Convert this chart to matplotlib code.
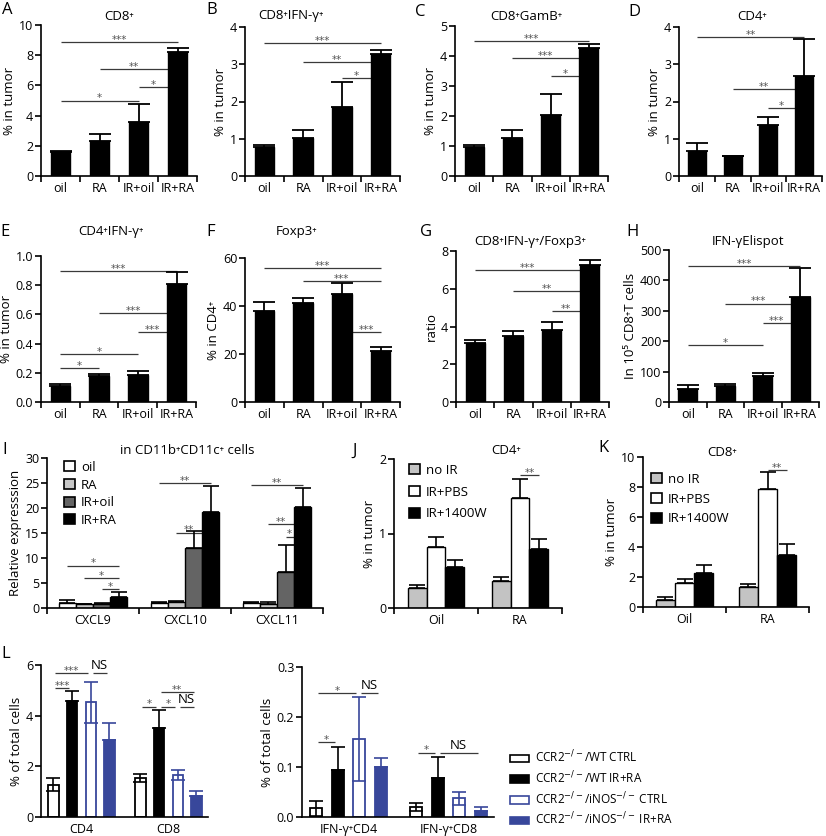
import matplotlib.pyplot as plt
import numpy as np
from matplotlib.patches import Patch

plt.rcParams["font.family"] = ["Open Sans", "DejaVu Sans"]
plt.rcParams["mathtext.fontset"] = "dejavusans"

FIG_W, FIG_H = 826, 836
BLUE = "#38479b"
LINE_GRAY = "#3a3a3a"
TICK_FS = 9
LABEL_FS = 9.5

# ---------------------------------------------------------------------------
# Data
# ---------------------------------------------------------------------------
treatments = ["oil", "RA", "IR+oil", "IR+RA"]

cd8_mean = [1.6, 2.3, 3.55, 8.2]
cd8_err = [0.08, 0.5, 1.25, 0.25]
cd8_sig = [(0, 3, 8.85, "***"), (1, 3, 7.1, "**"), (2, 3, 5.9, "*"), (0, 2, 5.0, "*")]

cd8ifn_mean = [0.78, 1.02, 1.85, 3.28]
cd8ifn_err = [0.05, 0.22, 0.68, 0.09]
cd8ifn_sig = [(0, 3, 3.57, "***"), (1, 3, 3.06, "**"), (2, 3, 2.64, "*")]

gamb_mean = [0.98, 1.28, 2.02, 4.28]
gamb_err = [0.06, 0.27, 0.73, 0.12]
gamb_sig = [(0, 3, 4.5, "***"), (1, 3, 3.93, "***"), (2, 3, 3.33, "*")]

cd4_mean = [0.67, 0.53, 1.38, 2.68]
cd4_err = [0.22, 0.02, 0.2, 1.0]
cd4_sig = [(0, 3, 3.73, "**"), (1, 3, 2.33, "**"), (2, 3, 1.82, "*")]

cd4ifn_mean = [0.11, 0.18, 0.185, 0.81]
cd4ifn_err = [0.015, 0.01, 0.03, 0.08]
cd4ifn_sig = [(0, 3, 0.9, "***"), (1, 3, 0.61, "***"), (2, 3, 0.478, "***"),
              (0, 2, 0.327, "*"), (0, 1, 0.233, "*")]

foxp3_mean = [38.1, 41.1, 45.0, 21.1]
foxp3_err = [3.5, 2.4, 4.7, 2.0]
foxp3_sig = [(0, 3, 56.0, "***"), (1, 3, 50.5, "***"), (2, 3, 29.0, "***")]

ratio_mean = [3.12, 3.51, 3.82, 7.28]
ratio_err = [0.18, 0.23, 0.44, 0.26]
ratio_sig = [(0, 3, 6.98, "***"), (1, 3, 5.89, "**"), (2, 3, 4.84, "**")]

elispot_mean = [44, 53, 86, 346]
elispot_err = [11, 5, 11, 94]
elispot_sig = [(0, 3, 448, "***"), (1, 3, 324, "***"), (2, 3, 260, "***"), (0, 2, 186, "*")]

chemokines = ["CXCL9", "CXCL10", "CXCL11"]
chem_colors = ["white", "#c8c8c8", "#646464", "black"]
chem_mean = [[1.1, 0.8, 0.75, 2.2], [1.0, 1.3, 12.0, 19.2], [1.0, 0.9, 7.2, 20.2]]
chem_err = [[0.5, 0.05, 0.35, 1.0], [0.2, 0.2, 3.5, 5.2], [0.3, 0.25, 5.4, 3.8]]
chem_sig = [(0, 0, 3, 8.5, "*"), (0, 1, 3, 6.0, "*"), (0, 2, 3, 3.8, "*"),
            (1, 0, 3, 25.0, "**"), (1, 1, 3, 15.1, "**"),
            (2, 0, 3, 24.6, "**"), (2, 1, 3, 16.8, "**"), (2, 2, 3, 14.3, "*")]

vehicles = ["Oil", "RA"]
inos_groups = ["no IR", "IR+PBS", "IR+1400W"]
inos_colors = ["#c3c3c3", "white", "black"]
j_mean = [[0.27, 0.82, 0.55], [0.36, 1.48, 0.79]]
j_err = [[0.04, 0.13, 0.09], [0.06, 0.25, 0.13]]
j_sig = [(1, 1, 2, 1.79, "**")]
k_mean = [[0.5, 1.62, 2.27], [1.33, 7.87, 3.5]]
k_err = [[0.18, 0.22, 0.5], [0.2, 1.1, 0.67]]
k_sig = [(1, 1, 2, 9.16, "**")]

mice = [r"CCR2$^{-/-}$/WT CTRL", r"CCR2$^{-/-}$/WT IR+RA",
        r"CCR2$^{-/-}$/iNOS$^{-/-}$ CTRL", r"CCR2$^{-/-}$/iNOS$^{-/-}$ IR+RA"]
mice_face = ["white", "black", "white", BLUE]
mice_edge = ["black", "black", BLUE, BLUE]
mice_open = [True, False, True, False]
l1_cells = ["CD4", "CD8"]
l1_mean = [[1.28, 4.57, 4.52, 3.05], [1.55, 3.53, 1.67, 0.83]]
l1_err = [[0.25, 0.4, 0.82, 0.65], [0.15, 0.7, 0.2, 0.2]]
l1_sig = [(0, 0, 2, 5.7, "***"), (0, 2, 3, 5.7, "NS"), (0, 0, 1, 5.1, "***"),
          (1, 1, 3, 4.94, "**"), (1, 0, 1, 4.36, "*"), (1, 1, 2, 4.36, "*"),
          (1, 2, 3, 4.36, "NS")]
l2_cells = ["IFN-γ⁺CD4", "IFN-γ⁺CD8"]
l2_mean = [[0.018, 0.094, 0.157, 0.101], [0.021, 0.078, 0.038, 0.012]]
l2_err = [[0.015, 0.046, 0.084, 0.017], [0.008, 0.043, 0.013, 0.009]]
l2_sig = [(0, 0, 1, 0.15, "*"), (0, 0, 2, 0.248, "*"), (0, 2, 3, 0.248, "NS"),
          (1, 0, 1, 0.129, "*"), (1, 1, 3, 0.129, "NS")]

# ---------------------------------------------------------------------------
# Helpers
# ---------------------------------------------------------------------------
fig = plt.figure(figsize=(FIG_W / 100, FIG_H / 100), dpi=100)


def px_axes(x0, y_top, x1, y_bot):
    return fig.add_axes([x0 / FIG_W, 1 - y_bot / FIG_H,
                         (x1 - x0) / FIG_W, (y_bot - y_top) / FIG_H])


def fig_text(x, y, s, **kw):
    fig.text(x / FIG_W, 1 - y / FIG_H, s, ha="center", va="center", **kw)


def style_axes(ax, ylim, yticks, yfmt="{:g}"):
    for s in ("top", "right"):
        ax.spines[s].set_visible(False)
    for s in ("left", "bottom"):
        ax.spines[s].set_linewidth(1.2)
    ax.set_ylim(*ylim)
    ax.set_yticks(yticks)
    ax.set_yticklabels([yfmt.format(v) for v in yticks])
    ax.tick_params(axis="y", length=4, width=1.2, labelsize=TICK_FS, pad=1.5)
    ax.tick_params(axis="x", which="major", length=4, width=1.2)
    ax.tick_params(axis="x", which="minor", length=0, labelsize=TICK_FS, pad=4)


def category_axis(ax, labels):
    n = len(labels)
    ax.set_xlim(0, n)
    ax.set_xticks(np.arange(n + 1))
    ax.set_xticklabels([])
    ax.set_xticks(np.arange(n) + 0.5, minor=True)
    ax.set_xticklabels(labels, minor=True)


def sig_line(ax, x1, x2, y, label, lo=None, hi=None):
    ax.plot([x1, x2], [y, y], color=LINE_GRAY, lw=0.9, zorder=1,
            solid_capstyle="butt", clip_on=False)
    a = x1 if lo is None else lo
    b = x2 if hi is None else hi
    if label == "NS":
        ax.annotate(label, ((a + b) / 2, y), xytext=(0, 0.5),
                    textcoords="offset points", ha="center", va="bottom",
                    fontsize=9.5)
    else:
        ax.annotate(label, ((a + b) / 2, y), xytext=(0, 1.5),
                    textcoords="offset points", ha="center", va="center",
                    fontsize=7.5, color="#555555", family="DejaVu Sans")


def treatment_panel(box, means, errs, sigs, ylim, yticks, ylabel, yfmt="{:g}"):
    ax = px_axes(*box)
    x = np.arange(len(means)) + 0.5
    ax.bar(x, means, width=0.5, color="black", edgecolor="black", lw=1, zorder=2)
    ax.errorbar(x, means, yerr=[np.zeros(len(errs)), errs], fmt="none",
                ecolor="black", elinewidth=1.3, capsize=8, capthick=1.3, zorder=2)
    for i, j, y, lab in sigs:
        lo = x[i] + 0.25 if means[i] > y else x[i]
        hi = x[j] - 0.25 if means[j] > y else x[j]
        sig_line(ax, x[i], x[j], y, lab, lo, hi)
    category_axis(ax, treatments)
    style_axes(ax, ylim, yticks, yfmt)
    ax.set_ylabel(ylabel, fontsize=LABEL_FS, labelpad=2)
    return ax


def grouped_panel(box, groups, means, errs, colors, width, ylim, yticks,
                  ylabel, sigs, capsize):
    ax = px_axes(*box)
    k = len(colors)
    offs = (np.arange(k) - (k - 1) / 2) * width
    for g, (m, e) in enumerate(zip(means, errs)):
        x = g + 0.5 + offs
        ax.bar(x, m, width=width, color=colors, edgecolor="black", lw=1,
               zorder=2)
        ax.errorbar(x, m, yerr=[np.zeros(k), e], fmt="none", ecolor="black",
                    elinewidth=1.2, capsize=capsize, capthick=1.2, zorder=2)
    for g, i, j, y, lab in sigs:
        xi, xj = g + 0.5 + offs[i], g + 0.5 + offs[j]
        lo = xi + width / 2 if means[g][i] > y else xi
        hi = xj - width / 2 if means[g][j] > y else xj
        sig_line(ax, xi, xj, y, lab, lo, hi)
    category_axis(ax, groups)
    style_axes(ax, ylim, yticks)
    ax.set_ylabel(ylabel, fontsize=LABEL_FS, labelpad=2)
    return ax


def mice_panel(box, cells, means, errs, ylim, yticks, ylabel, sigs, yfmt="{:g}"):
    ax = px_axes(*box)
    step, width = 0.215, 0.12
    offs = (np.arange(4) - 1.5) * step
    for g, (m, e) in enumerate(zip(means, errs)):
        for b in range(4):
            x = g + offs[b]
            ax.bar(x, m[b], width=width, color=mice_face[b],
                   edgecolor=mice_edge[b], lw=1.3, zorder=2)
            lower = e[b] if mice_open[b] else 0
            ax.errorbar([x], [m[b]], yerr=[[lower], [e[b]]], fmt="none",
                        ecolor=mice_edge[b], elinewidth=1.2, capsize=5,
                        capthick=1.2, zorder=3)
    for g, i, j, y, lab in sigs:
        sig_line(ax, g + offs[i] + 0.02, g + offs[j] - 0.03, y, lab)
    ax.set_xlim(-0.465, 1.455)
    ax.set_xticks([0, 1])
    ax.set_xticklabels(cells)
    style_axes(ax, ylim, yticks, yfmt)
    ax.tick_params(axis="x", which="major", length=0, labelsize=TICK_FS, pad=4)
    ax.set_ylabel(ylabel, fontsize=LABEL_FS, labelpad=2)
    return ax


def box_legend(ax, labels, faces, edges, x, y, fontsize=9.5, hl=0.8, hh=0.8,
               spacing=0.45):
    handles = [Patch(facecolor=f, edgecolor=e, lw=1.2) for f, e in zip(faces, edges)]
    ax.legend(handles, labels, loc="upper left",
              bbox_to_anchor=(x / FIG_W, 1 - y / FIG_H),
              bbox_transform=fig.transFigure, frameon=False, fontsize=fontsize,
              handlelength=hl, handleheight=hh, handletextpad=0.5,
              labelspacing=spacing, borderpad=0, borderaxespad=0)


# ---------------------------------------------------------------------------
# Row 1: A-D
# ---------------------------------------------------------------------------
treatment_panel((41, 25, 197, 176), cd8_mean, cd8_err, cd8_sig, (0, 10),
                range(0, 11, 2), "% in tumor")
treatment_panel((245, 27, 400, 176), cd8ifn_mean, cd8ifn_err, cd8ifn_sig,
                (0, 4), range(0, 5), "% in tumor")
treatment_panel((455, 26, 608, 176), gamb_mean, gamb_err, gamb_sig, (0, 5),
                range(0, 6), "% in tumor")
treatment_panel((679, 27, 822, 176), cd4_mean, cd4_err, cd4_sig, (0, 4),
                range(0, 5), "% in tumor")

# Row 2: E-H
treatment_panel((41, 256, 196, 402), cd4ifn_mean, cd4ifn_err, cd4ifn_sig,
                (0, 1), np.arange(0, 1.01, 0.2), "% in tumor", "{:.1f}")
treatment_panel((245, 258, 400, 402), foxp3_mean, foxp3_err, foxp3_sig,
                (0, 60), range(0, 61, 20), "% in CD4⁺")
treatment_panel((456, 251, 609, 402), ratio_mean, ratio_err, ratio_sig,
                (0, 8), range(0, 9, 2), "ratio")
treatment_panel((669, 250, 819, 402), elispot_mean, elispot_err, elispot_sig,
                (0, 500), range(0, 501, 100), "In 10⁵ CD8⁺T cells")

# Row 3: I-K
ax_i = grouped_panel((47, 458, 323, 608), chemokines, chem_mean, chem_err,
                     chem_colors, 0.185, (0, 30), range(0, 31, 5),
                     "Relative expresssion", chem_sig, 6)
box_legend(ax_i, treatments, chem_colors, ["black"] * 4, 64, 461,
           spacing=0.35)

ax_j = grouped_panel((394, 459, 562, 608), vehicles, j_mean, j_err,
                     inos_colors, 0.226, (0, 2), [0, 1, 2], "% in tumor",
                     j_sig, 6)
box_legend(ax_j, inos_groups, inos_colors, ["black"] * 3, 409, 464,
           spacing=0.65)

ax_k = grouped_panel((643, 457, 809, 607), vehicles, k_mean, k_err,
                     inos_colors, 0.229, (0, 10), range(0, 11, 2), "% in tumor",
                     k_sig, 6)
box_legend(ax_k, inos_groups, inos_colors, ["black"] * 3, 651, 473,
           spacing=0.5)

# Row 4: L
mice_panel((41, 665, 208, 817), l1_cells, l1_mean, l1_err, (0, 6),
           range(0, 7, 2), "% of total cells", l1_sig)
ax_l2 = mice_panel((302, 667, 494, 817), l2_cells, l2_mean, l2_err, (0, 0.3),
                   [0, 0.1, 0.2, 0.3], "% of total cells", l2_sig, "{:.1f}")
box_legend(ax_l2, mice, mice_face, mice_edge, 510, 749, fontsize=8.5,
           hl=1.6, hh=0.6, spacing=0.35)

# ---------------------------------------------------------------------------
# Panel letters and titles
# ---------------------------------------------------------------------------
letters = [("A", 7, 10), ("B", 212, 10), ("C", 420, 12), ("D", 634, 12),
           ("E", 5, 232), ("F", 211, 232), ("G", 426, 232), ("H", 633, 232),
           ("I", 5, 450), ("J", 355, 451), ("K", 604, 448), ("L", 6, 654)]
for s, x, y in letters:
    fig_text(x, y, s, fontsize=12)

titles = [("CD8⁺", 119, 16), ("CD8⁺IFN-γ⁺", 291, 16), ("CD8⁺GamB⁺", 526, 16),
          ("CD4⁺", 752, 16), ("CD4⁺IFN-γ⁺", 111, 232), ("Foxp3⁺", 297, 232),
          ("CD8⁺IFN-γ⁺/Foxp3⁺", 530, 242), ("IFN-γElispot", 748, 242),
          ("in CD11b⁺CD11c⁺ cells", 187, 451), ("CD4⁺", 506, 450),
          ("CD8⁺", 722, 452)]
for s, x, y in titles:
    fig_text(x, y, s, fontsize=9.5)

fig.savefig("out.png", dpi=100)
